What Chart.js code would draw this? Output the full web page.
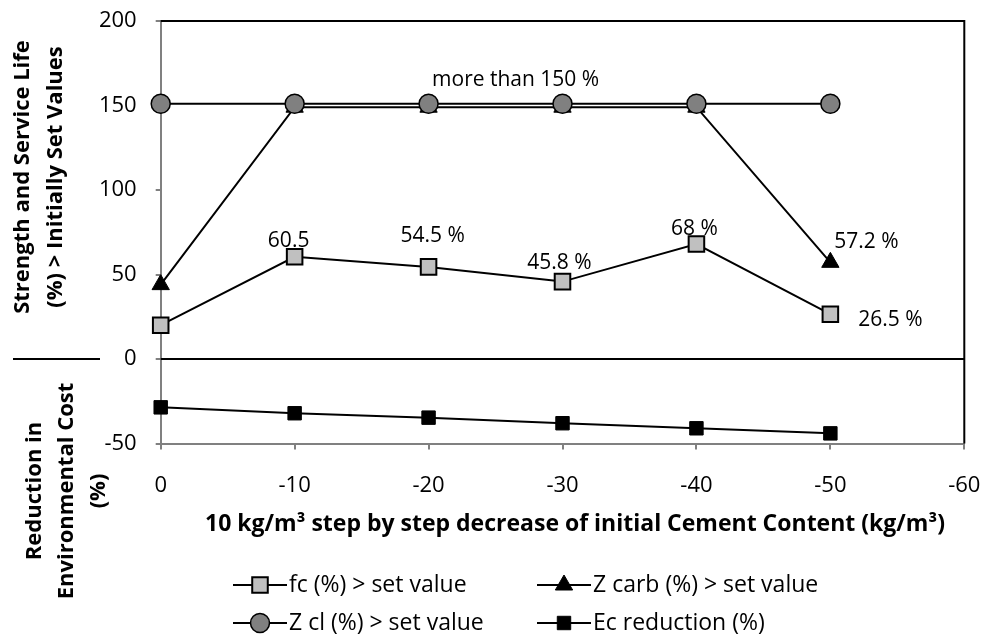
<!DOCTYPE html>
<html lang="en">
<head>
<meta charset="UTF-8">
<title>Cement content decrease</title>
<style>
  body { margin: 0; background: #fff; }
  canvas { display: block; }
</style>
</head>
<body>
<canvas id="chart" width="984" height="637"></canvas>
<script src="https://cdn.jsdelivr.net/npm/chart.js"></script>
<script>
// data
const xSteps = [0, -10, -20, -30, -40, -50];
const xTicks = [0, -10, -20, -30, -40, -50, -60];
const yTicks = [-50, 0, 50, 100, 150, 200];
const fcValues = [20, 60.5, 54.5, 45.8, 68, 26.5];
const zCarbValues = [44, 149, 149, 149, 149, 57.2];
const zClValues = [151, 151, 151, 151, 151, 151];
const ecValues = [-28.6, -32.1, -34.7, -38, -41, -44];
const fcLabels = ['', '60.5', '54.5 %', '45.8 %', '68 %', '26.5 %'];
const zCarbLabels = ['', '', '', '', '', '57.2 %'];
const seriesNames = ['fc (%) > set value', 'Z carb (%) > set value', 'Z cl (%) > set value', 'Ec reduction (%)'];
const noteText = 'more than 150 %';
const noteAt = { x: -26.5, y: 165 };
const xTitle = '10 kg/m\u00B3 step by step decrease of initial Cement Content (kg/m\u00B3)';
const yTitleTop = ['Strength and Service Life', '(%) > Initially Set Values'];
const yTitleBottom = ['Reduction in', 'Environmental Cost', '(%)'];

const pts = (vals) => xSteps.map((x, i) => ({ x: x, y: vals[i] }));

// label nudges (px) relative to the point
const fcOffsets = [[0, 0], [-6, -16], [4, -31], [-3, -19], [-2, -15], [60, 6]];
const zCarbOffsets = [[0, 0], [0, 0], [0, 0], [0, 0], [0, 0], [36, -20]];

const FONT = '"Open Sans", "DejaVu Sans", sans-serif';

const extras = {
  id: 'extras',
  beforeDatasetsDraw(chart) {
    const { ctx, chartArea: a, scales } = chart;
    const y0 = scales.y.getPixelForValue(0);
    ctx.save();
    ctx.strokeStyle = '#000';
    ctx.lineWidth = 2;
    ctx.beginPath();
    ctx.moveTo(a.left, a.top); ctx.lineTo(a.right, a.top); ctx.lineTo(a.right, a.bottom);
    ctx.moveTo(a.left, y0); ctx.lineTo(a.right, y0);
    // short separator between the two y titles
    ctx.moveTo(13, y0); ctx.lineTo(100, y0);
    ctx.stroke();
    ctx.restore();
  },
  afterDraw(chart) {
    const { ctx, scales } = chart;
    const xs = scales.x, ys = scales.y;
    ctx.save();
    ctx.fillStyle = '#000';
    ctx.textAlign = 'center';
    ctx.textBaseline = 'middle';
    ctx.font = '21px ' + FONT;
    fcLabels.forEach((t, i) => {
      if (!t) return;
      ctx.fillText(t, xs.getPixelForValue(xSteps[i]) + fcOffsets[i][0], ys.getPixelForValue(fcValues[i]) + fcOffsets[i][1]);
    });
    zCarbLabels.forEach((t, i) => {
      if (!t) return;
      ctx.fillText(t, xs.getPixelForValue(xSteps[i]) + zCarbOffsets[i][0], ys.getPixelForValue(zCarbValues[i]) + zCarbOffsets[i][1]);
    });
    ctx.fillText(noteText, xs.getPixelForValue(noteAt.x), ys.getPixelForValue(noteAt.y));

    // axis titles
    ctx.font = 'bold 23px ' + FONT;
    ctx.fillText(xTitle, 575, 524);
    const rot = (lines, cx, cy, gap) => {
      ctx.save();
      ctx.translate(cx, cy);
      ctx.rotate(-Math.PI / 2);
      lines.forEach((l, i) => ctx.fillText(l, 0, i * gap));
      ctx.restore();
    };
    ctx.font = 'bold 22px ' + FONT;
    rot(yTitleTop, 23, 177, 33);
    rot(yTitleBottom, 35, 491, 32);

    // legend, two columns
    const slots = [[233, 585], [537, 585], [233, 623], [537, 623]];
    ctx.font = '23px ' + FONT;
    ctx.textAlign = 'left';
    chart.data.datasets.forEach((ds, k) => {
      const [lx, ly] = slots[k];
      ctx.strokeStyle = '#000';
      ctx.lineWidth = 2;
      ctx.beginPath(); ctx.moveTo(lx, ly); ctx.lineTo(lx + 54, ly); ctx.stroke();
      ctx.fillStyle = ds.pointBackgroundColor;
      ctx.strokeStyle = ds.pointBorderColor;
      ctx.lineWidth = ds.pointBorderWidth;
      Chart.helpers.drawPoint(ctx, { pointStyle: ds.pointStyle, rotation: 0, radius: ds.pointRadius, borderWidth: ds.pointBorderWidth }, lx + 27, ly);
      ctx.fillStyle = '#000';
      ctx.fillText(ds.label, lx + 56, ly);
    });
    ctx.restore();
  }
};

new Chart(document.getElementById('chart'), {
  type: 'line',
  data: {
    datasets: [
      { label: seriesNames[0], data: pts(fcValues), borderColor: '#000', borderWidth: 2, clip: false,
        pointStyle: 'rect', pointRadius: 11, pointBackgroundColor: '#c0c0c0', pointBorderColor: '#000', pointBorderWidth: 2, order: 2 },
      { label: seriesNames[1], data: pts(zCarbValues), borderColor: '#000', borderWidth: 2, clip: false,
        pointStyle: 'triangle', pointRadius: 10, pointBackgroundColor: '#000', pointBorderColor: '#000', pointBorderWidth: 1, order: 1 },
      { label: seriesNames[2], data: pts(zClValues), borderColor: '#000', borderWidth: 2, clip: false,
        pointStyle: 'circle', pointRadius: 9.5, pointBackgroundColor: '#808080', pointBorderColor: '#000', pointBorderWidth: 1.5, order: 0 },
      { label: seriesNames[3], data: pts(ecValues), borderColor: '#000', borderWidth: 2, clip: false,
        pointStyle: 'rect', pointRadius: 9.5, pointBackgroundColor: '#000', pointBorderColor: '#000', pointBorderWidth: 1, order: 3 }
    ]
  },
  options: {
    responsive: false,
    animation: false,
    layout: { padding: { top: 21, right: 19.7, bottom: 133.5, left: 0 } },
    plugins: { legend: { display: false }, tooltip: { enabled: false } },
    elements: { line: { tension: 0 } },
    scales: {
      x: {
        type: 'linear', reverse: true, min: -60, max: 0,
        afterFit: (s) => { s.height = 60; s.paddingLeft = 0; s.paddingRight = 0; },
        afterBuildTicks: (s) => { s.ticks = xTicks.map(v => ({ value: v })); },
        grid: { drawOnChartArea: false, drawTicks: true, tickLength: 6, color: '#808080', lineWidth: 2 },
        border: { color: '#808080', width: 2 },
        ticks: { color: '#000', font: { family: FONT, size: 22 }, padding: 23, maxRotation: 0 }
      },
      y: {
        min: -50, max: 200,
        afterFit: (s) => { s.width = 160.7; s.paddingTop = 0; s.paddingBottom = 0; },
        afterBuildTicks: (s) => { s.ticks = yTicks.map(v => ({ value: v })); },
        grid: { drawOnChartArea: false, drawTicks: true, tickLength: 5, color: '#808080', lineWidth: 2 },
        border: { color: '#808080', width: 2 },
        ticks: { color: '#000', font: { family: FONT, size: 22 }, padding: 19 }
      }
    }
  },
  plugins: [extras]
});
</script>
</body>
</html>
